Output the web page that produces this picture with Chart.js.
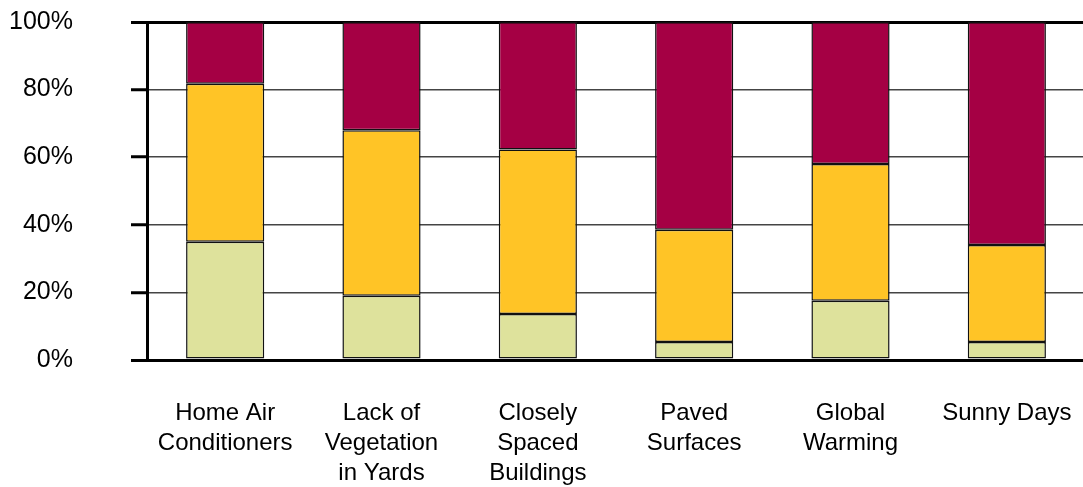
<!DOCTYPE html>
<html>
<head>
<meta charset="utf-8">
<script src="https://cdn.jsdelivr.net/npm/chart.js@4/dist/chart.umd.min.js"></script>
<style>
  html, body { margin: 0; padding: 0; background: #fff; overflow: hidden; }
  #wrap { width: 1085px; height: 487px; }
</style>
</head>
<body>
<div id="wrap"><canvas id="chart"></canvas></div>
<script>
// -----------------------------
// DATA
// -----------------------------
const categories = [
  ["Home Air", "Conditioners"],
  ["Lack of", "Vegetation", "in Yards"],
  ["Closely", "Spaced", "Buildings"],
  ["Paved", "Surfaces"],
  ["Global", "Warming"],
  ["Sunny Days"]
];
const bottomValues = [35, 19, 13.6, 5.3, 17.5, 5.3];
const middleValues = [46.7, 49, 48.7, 33.2, 40.5, 28.7];
const topValues = [18.3, 32, 37.7, 61.5, 42, 66];
const yTicks = [0, 20, 40, 60, 80, 100];

const FONT = "'Liberation Sans', Arial, Helvetica, sans-serif";

function makeSet(label, data, color) {
  return {
    label: label,
    data: data,
    backgroundColor: color,
    borderColor: "#111",
    borderWidth: 1.5,
    borderSkipped: false,
    barPercentage: 0.5,
    categoryPercentage: 1
  };
}

const isEdge = (c) => c.tick && (c.tick.value === 0 || c.tick.value === 100);

new Chart(document.getElementById("chart"), {
  type: "bar",
  data: {
    labels: categories,
    datasets: [
      makeSet("Bottom", bottomValues, "#dee29c"),
      makeSet("Middle", middleValues, "#ffc426"),
      makeSet("Top", topValues, "#a50044")
    ]
  },
  options: {
    responsive: true,
    maintainAspectRatio: false,
    animation: false,
    layout: { padding: { top: 22, right: 0, bottom: 0, left: 0 } },
    plugins: { legend: { display: false }, tooltip: { enabled: false } },
    scales: {
      x: {
        stacked: true,
        grid: { display: false },
        border: { display: false },
        ticks: {
          color: "#000",
          font: { family: FONT, size: 24, lineHeight: 1.25 },
          padding: 30,
          maxRotation: 0,
          autoSkip: false
        },
        afterFit: (s) => {
          s.height = 127;
          s.paddingLeft = 0;
          s.paddingRight = 0;
        }
      },
      y: {
        stacked: true,
        min: 0,
        max: 100,
        afterBuildTicks: (s) => { s.ticks = yTicks.map(v => ({ value: v })); },
        grid: {
          color: (c) => isEdge(c) ? "#000" : "#444",
          lineWidth: (c) => isEdge(c) ? 3 : 1.5,
          tickLength: 16,
          tickColor: "#000",
          tickWidth: 3
        },
        border: { display: true, color: "#000", width: 3 },
        ticks: {
          color: "#000",
          font: { family: FONT, size: 25 },
          padding: 58,
          callback: (v) => v + "%"
        },
        afterFit: (s) => {
          s.width = 147;
          s.paddingTop = 0;
          s.paddingBottom = 0;
        }
      }
    }
  }
});
</script>
</body>
</html>
